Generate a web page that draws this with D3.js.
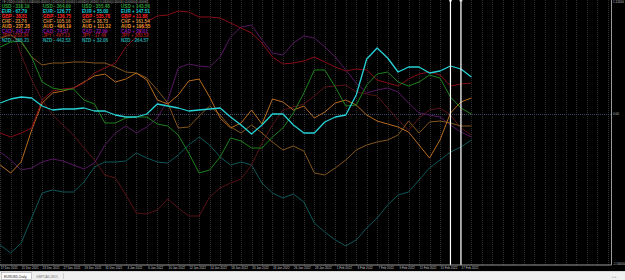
<!DOCTYPE html>
<html><head><meta charset="utf-8">
<script src="https://cdn.jsdelivr.net/npm/d3@7"></script>
<style>html,body{margin:0;padding:0;background:#000;overflow:hidden}svg{display:block}</style>
</head><body><svg id="c" width="625" height="280"></svg>
<script>
const dates = ["16 Dec 2021","17 Dec 2021","20 Dec 2021","21 Dec 2021","22 Dec 2021","23 Dec 2021","24 Dec 2021","27 Dec 2021","28 Dec 2021","29 Dec 2021","30 Dec 2021","31 Dec 2021","3 Jan 2022","4 Jan 2022","5 Jan 2022","6 Jan 2022","7 Jan 2022","10 Jan 2022","11 Jan 2022","12 Jan 2022","13 Jan 2022","14 Jan 2022","17 Jan 2022","18 Jan 2022","19 Jan 2022","20 Jan 2022","21 Jan 2022","24 Jan 2022","25 Jan 2022","26 Jan 2022","27 Jan 2022","28 Jan 2022","31 Jan 2022","1 Feb 2022","2 Feb 2022","3 Feb 2022","4 Feb 2022","7 Feb 2022","8 Feb 2022","9 Feb 2022","10 Feb 2022","11 Feb 2022","14 Feb 2022","15 Feb 2022","16 Feb 2022","17 Feb 2022"];
const tickLabels = ["17 Dec 2021","21 Dec 2021","23 Dec 2021","27 Dec 2021","29 Dec 2021","31 Dec 2021","4 Jan 2022","6 Jan 2022","10 Jan 2022","12 Jan 2022","14 Jan 2022","18 Jan 2022","20 Jan 2022","24 Jan 2022","26 Jan 2022","28 Jan 2022","1 Feb 2022","3 Feb 2022","7 Feb 2022","9 Feb 2022","11 Feb 2022","15 Feb 2022","17 Feb 2022"];
const currencies = ["USD","EUR","GBP","CHF","AUD","CAD","JPY","NZD"];

const USD = [0.67,0.72,0.73,0.57,0.32,0.26,0.24,0.25,0.14,0.10,-0.09,-0.09,-0.04,-0.03,-0.03,-0.10,-0.12,-0.21,-0.39,-0.59,-0.56,-0.43,-0.24,-0.27,-0.34,-0.34,-0.23,-0.14,0.01,0.21,0.44,0.44,0.27,0.08,0.09,0.29,0.40,0.42,0.32,0.28,0.32,0.39,0.36,0.17,0.06,0.00];
const EUR = [0.11,0.15,0.17,0.16,0.08,0.04,0.05,0.05,0.06,0.03,0.03,-0.01,-0.03,-0.03,0.00,0.10,0.08,0.06,0.03,0.04,0.05,0.06,-0.03,-0.11,-0.20,-0.11,0.00,0.00,-0.11,-0.19,-0.19,-0.08,-0.03,-0.01,0.19,0.55,0.66,0.56,0.42,0.47,0.47,0.41,0.43,0.48,0.45,0.37];
const GBP = [-0.19,-0.23,-0.19,-0.14,0.14,0.23,0.25,0.26,0.31,0.41,0.46,0.51,0.67,0.77,0.92,0.98,0.99,1.03,1.02,0.97,0.97,0.96,0.91,0.86,0.81,0.71,0.57,0.50,0.51,0.53,0.57,0.52,0.47,0.43,0.45,0.44,0.34,0.31,0.28,0.35,0.40,0.42,0.39,0.28,0.30,0.31];
const CHF = [0.76,0.79,0.72,0.57,0.49,0.51,0.51,0.52,0.52,0.51,0.51,0.47,0.42,0.41,0.36,0.24,0.11,-0.14,-0.13,-0.02,0.08,-0.01,-0.13,-0.19,-0.11,-0.19,-0.28,-0.36,-0.32,-0.37,-0.59,-0.61,-0.54,-0.46,-0.36,-0.31,-0.28,-0.26,-0.21,-0.07,-0.19,-0.08,-0.07,-0.09,-0.12,-0.12];
const AUD = [-0.51,-0.59,-0.48,-0.16,0.11,0.21,0.23,0.26,0.32,0.38,0.40,0.32,0.35,0.41,0.34,0.14,0.10,0.19,0.33,0.35,0.17,-0.04,-0.14,-0.09,0.04,-0.10,0.15,0.12,0.04,0.08,-0.04,0.02,0.11,0.14,0.09,-0.01,-0.07,-0.10,-0.13,-0.18,-0.31,-0.44,-0.26,0.01,0.12,0.16];
const CAD = [-0.38,-0.46,-0.56,-0.54,-0.48,-0.45,-0.47,-0.51,-0.55,-0.49,-0.31,-0.19,-0.12,-0.19,-0.13,-0.04,0.14,0.46,0.50,0.48,0.47,0.57,0.77,0.87,0.89,0.74,0.61,0.59,0.71,0.78,0.76,0.67,0.57,0.44,0.31,0.21,0.24,0.26,0.22,0.11,0.01,-0.01,-0.03,-0.11,-0.18,-0.23];
const JPY = [1.04,0.89,0.59,0.34,0.14,-0.01,-0.11,-0.21,-0.34,-0.46,-0.61,-0.64,-0.81,-0.99,-1.00,-0.96,-0.85,-0.94,-1.02,-1.02,-0.83,-0.74,-0.69,-0.65,-0.51,-0.29,-0.11,0.04,0.07,0.10,0.18,0.27,0.28,0.29,0.22,0.20,0.18,0.06,-0.06,-0.16,-0.04,0.04,0.06,-0.01,-0.14,-0.21];
const NZD = [-1.31,-1.39,-1.29,-1.04,-0.79,-0.76,-0.78,-0.78,-0.68,-0.53,-0.48,-0.48,-0.47,-0.39,-0.44,-0.48,-0.49,-0.41,-0.31,-0.23,-0.31,-0.43,-0.51,-0.48,-0.51,-0.69,-0.79,-0.84,-0.80,-0.88,-1.09,-1.18,-1.26,-1.32,-1.26,-1.14,-1.04,-0.91,-0.81,-0.78,-0.66,-0.54,-0.46,-0.38,-0.33,-0.26];

const legendUSD = [-318.19,-364.09,-355.48,143.56];
const legendEUR = [-67.79,-126.77,55.00,147.51];
const legendGBP = [-38.81,-136.75,-535.78,11.88];
const legendCHF = [-23.76,-105.16,38.73,161.54];
const legendAUD = [-237.28,-496.19,111.32,196.55];
const legendCAD = [-241.27,-74.37,-22.99,26.01];
const legendJPY = [-232.34,-497.13,-17.46,330.52];
const legendNZD = [-385.21,-442.53,32.06,-264.57];

const markerDates = ["15 Feb 2022","16 Feb 2022"];
const yTicks = [1.12, 0, -1.5];
const yTickLabels = ["1.12000","0.00","-1.50000"];
const headerText = "#E USD(0.00000) 0.00000(0.00000) 0.00000(0.00000) 0.00000(0.00000) 0.00000(0.00000) 0.00000(0.00000)";

const series = {USD, EUR, GBP, CHF, AUD, CAD, JPY, NZD};
const legend = {USD:legendUSD, EUR:legendEUR, GBP:legendGBP, CHF:legendCHF, AUD:legendAUD, CAD:legendCAD, JPY:legendJPY, NZD:legendNZD};
const lineColor = {USD:"#1c821c", EUR:"#26d2d6", GBP:"#860c16", CHF:"#84561f", AUD:"#b86c20", CAD:"#561860", JPY:"#561317", NZD:"#0e5858"};
const textColor = {USD:"#2f9e3a", EUR:"#18d2dc", GBP:"#ff2424", CHF:"#d08a3c", AUD:"#f09a2c", CAD:"#8c12a4", JPY:"#9a1c1c", NZD:"#22a2a2"};
const drawOrder = ["NZD","JPY","CAD","CHF","AUD","GBP","USD","EUR"];

const svg = d3.select("#c");
const W = 625, H = 280, plotR = 611.5, plotB = 265;
svg.append("rect").attr("width",W).attr("height",H).attr("fill","#000");

const x = d3.scaleLinear().domain([0, 58.4]).range([0.23, 611.7]);
const y = d3.scaleLinear().domain([-1.5, 1.12]).range([264, 2]);
const idx = d => dates.indexOf(d);

// vertical dotted grid
const gridIdx = d3.range(0, 59);
svg.append("g").selectAll("line").data(gridIdx).join("line")
  .attr("x1", d => Math.round(x(d))+0.5).attr("x2", d => Math.round(x(d))+0.5)
  .attr("y1", 0).attr("y2", plotB)
  .attr("stroke", "#303030").attr("stroke-width", 1).attr("stroke-dasharray", "1,1");

// zero line
svg.append("line").attr("x1",0).attr("x2",plotR).attr("y1",Math.round(y(0))+0.5).attr("y2",Math.round(y(0))+0.5)
  .attr("stroke","#3c4660").attr("stroke-dasharray","1,1");

// lines
const line = d3.line().x((d,i) => x(i)).y(d => y(d));
drawOrder.forEach(c => {
  svg.append("path").datum(series[c]).attr("d", line)
    .attr("fill","none").attr("stroke", lineColor[c])
    .attr("stroke-width", c === "EUR" ? 1.3 : 1)
    .attr("stroke-linejoin","round");
});

// markers
markerDates.forEach(d => {
  const xx = x(idx(d));
  svg.append("line").attr("x1",xx).attr("x2",xx).attr("y1",0).attr("y2",plotB)
    .attr("stroke","#ffffff").attr("stroke-width",1.2);
  svg.append("line").attr("x1",xx-1.5).attr("x2",xx+1.5).attr("y1",0.8).attr("y2",0.8)
    .attr("stroke","#ffffff").attr("stroke-width",1);
});

// border
svg.append("path").attr("d",`M${plotR},0V${plotB}H0`).attr("fill","none").attr("stroke","#9a9a9a").attr("stroke-width",1);

// header
svg.append("text").attr("x",2).attr("y",3.4).attr("fill","#a8a8a8")
  .attr("font-family","Liberation Sans, Arial, sans-serif").attr("font-size",3).text(headerText);

// legend
const colX = [1.7, 43, 82, 121];
currencies.forEach((c, r) => {
  legend[c].forEach((v, k) => {
    const s = v < 0 ? "-" : "+";
    svg.append("text").attr("x", colX[k]).attr("y", 7.7 + r*4.96)
      .attr("fill", textColor[c]).attr("font-family","Liberation Sans, Arial, sans-serif")
      .attr("font-weight","bold").attr("font-size",4.6)
      .text(`${c} ${s} ${Math.abs(v).toFixed(2)}`);
  });
});

// x axis
const tickPos = tickLabels.map(idx);
const xAxis = d3.axisBottom(x).tickValues(tickPos).tickFormat(d => dates[d]).tickSize(0).tickPadding(0);
const gx = svg.append("g").attr("transform",`translate(-2,${plotB})`).call(xAxis);
gx.select(".domain").remove();
gx.selectAll("text").attr("fill","#c8c8c8").attr("font-size",3).attr("dy","4.1")
  .attr("font-family","Liberation Sans, Arial, sans-serif");

// y axis on right
const yAxis = d3.axisRight(y).tickValues(yTicks).tickFormat((d,i) => yTickLabels[i]).tickSize(0).tickPadding(1.5);
const gy = svg.append("g").attr("transform",`translate(${plotR},0)`).call(yAxis);
gy.select(".domain").remove();
gy.selectAll("text").attr("fill","#c0c0c0").attr("font-size",3)
  .attr("font-family","Liberation Sans, Arial, sans-serif");

// tab bar
svg.append("rect").attr("x",0).attr("y",271).attr("width",W).attr("height",9).attr("fill","#f0f0f0");
svg.append("line").attr("x1",0).attr("x2",W).attr("y1",271.5).attr("y2",271.5).attr("stroke","#d8d8d8");
svg.append("rect").attr("x",1.5).attr("y",272.5).attr("width",30).attr("height",7).attr("fill","#ffffff").attr("stroke","#9a9a9a").attr("stroke-width",0.5);
svg.append("text").attr("x",4).attr("y",277.6).attr("fill","#222").attr("font-size",3.4)
  .attr("font-family","Liberation Sans, Arial, sans-serif").text("EURUSD,Daily");
svg.append("text").attr("x",36).attr("y",277.6).attr("fill","#7a7a7a").attr("font-size",3.4)
  .attr("font-family","Liberation Sans, Arial, sans-serif").text("GBPCAD,M15");
svg.append("line").attr("x1",63.5).attr("x2",63.5).attr("y1",273).attr("y2",279).attr("stroke","#b0b0b0").attr("stroke-width",0.5);
svg.append("text").attr("x",612).attr("y",277.6).attr("fill","#a0a0a0").attr("font-size",3.4).text("◂  ▸");
</script></body></html>
